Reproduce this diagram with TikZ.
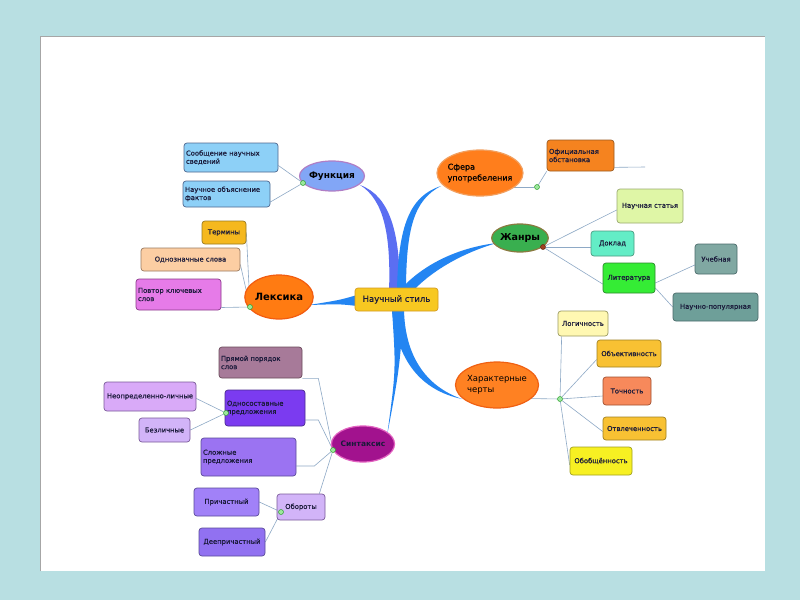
\documentclass[tikz,border=0pt]{standalone}
\usepackage{fontspec}
\setmainfont{DejaVu Sans}
\newfontfamily\boxfont{DejaVu Sans}[FakeBold=0.6]
\usetikzlibrary{shapes.geometric,backgrounds}
\definecolor{bgteal}{HTML}{B8DFE2}
\definecolor{txt}{HTML}{1A1A3A}
\definecolor{connc}{HTML}{8EA9C6}
\definecolor{brA}{HTML}{5B6EF2}
\definecolor{brB}{HTML}{2385F2}
\definecolor{fSB}{HTML}{8DD0F7}\definecolor{dSB}{HTML}{506890}
\definecolor{fOf}{HTML}{F5831F}\definecolor{dOf}{HTML}{9A5A20}
\definecolor{fSt}{HTML}{DFF6A6}\definecolor{dSt}{HTML}{9AAA70}
\definecolor{fDk}{HTML}{63EDC6}\definecolor{dDk}{HTML}{4A9A80}
\definecolor{fLt}{HTML}{35EC35}\definecolor{dLt}{HTML}{2A8A2A}
\definecolor{fUc}{HTML}{80A8A2}\definecolor{dUc}{HTML}{4A6A6A}
\definecolor{fNp}{HTML}{6E9F99}
\definecolor{fTe}{HTML}{F5B81E}\definecolor{dTe}{HTML}{9A7A20}
\definecolor{fOd}{HTML}{FCCEA3}\definecolor{dOd}{HTML}{9A7A60}
\definecolor{fPv}{HTML}{E67BE8}\definecolor{dPv}{HTML}{8A3A8A}
\definecolor{fLg}{HTML}{FFF8B2}\definecolor{dLg}{HTML}{9A9A60}
\definecolor{fOb}{HTML}{F8C133}\definecolor{dOb}{HTML}{A08020}
\definecolor{fTo}{HTML}{F7895B}\definecolor{dTo}{HTML}{A05030}
\definecolor{fOo}{HTML}{F7F022}\definecolor{dOo}{HTML}{A0A020}
\definecolor{fPr}{HTML}{A77A99}\definecolor{dPr}{HTML}{6A4A5A}
\definecolor{fOs}{HTML}{7B3BF0}\definecolor{dOs}{HTML}{4A2A90}
\definecolor{fNe}{HTML}{D9AAF8}\definecolor{dNe}{HTML}{7A5A9A}
\definecolor{fBz}{HTML}{D2B4F8}
\definecolor{fSl}{HTML}{9B73F2}\definecolor{dSl}{HTML}{5A4A9A}
\definecolor{fPc}{HTML}{A181F8}
\definecolor{fDe}{HTML}{9171F1}
\definecolor{fCe}{HTML}{F7C821}\definecolor{dCe}{HTML}{D49A20}
\definecolor{fFu}{HTML}{82A6F6}\definecolor{dFu}{HTML}{B07EC6}
\definecolor{fSf}{HTML}{FF7E1C}\definecolor{dSf}{HTML}{F2A060}
\definecolor{fZh}{HTML}{39AF4F}\definecolor{dZh}{HTML}{8A7A40}
\definecolor{fLe}{HTML}{FF7B12}\definecolor{dLe}{HTML}{F25C10}
\definecolor{fHa}{HTML}{FF8122}\definecolor{dHa}{HTML}{F06012}
\definecolor{fSi}{HTML}{A2128E}\definecolor{dSi}{HTML}{E262C0}
\definecolor{dotg}{HTML}{9CE89C}\definecolor{dotgd}{HTML}{30A030}
\definecolor{dotr}{HTML}{A04020}
\tikzset{
  box/.style 2 args={fill=#1, draw=#2, rounded corners=3pt, line width=0.7pt,
    inner sep=2pt, text=txt, font=\boxfont\fontsize{6.8}{8.2}\selectfont},
  ell/.style 2 args={ellipse, fill=#1, draw=#2, line width=1.2pt, inner sep=0pt,
    text=black, font=\fontsize{9}{10}\selectfont\bfseries},
  jdot/.style 2 args={circle, fill=#1, draw=#2, line width=0.5pt, minimum size=5pt, inner sep=0pt},
  conn/.style={draw=connc, line width=0.6pt},
  branch/.style={fill=#1, draw=none},
}
\begin{document}
\begin{tikzpicture}[x=1pt,y=-1pt]
\useasboundingbox (0,0) rectangle (800,600);
\begin{scope}[on background layer]
  \fill[bgteal] (0,0) rectangle (800,600);
  \fill[white] (40,36) rectangle (765,571);
  \draw[gray!70, line width=0.8pt] (40,571) -- (40,36) -- (765,36);
  % tapered branches from the central node
  \path[branch=brA] (389,292) .. controls (391,235) and (384,200) .. (360,185)
        .. controls (390,196) and (400,232) .. (400,292) -- cycle;
  \path[branch=brB] (397,292) .. controls (398,225) and (410,196) .. (441,186)
        .. controls (414,200) and (406,228) .. (406,292) -- cycle;
  \path[branch=brB] (400,290) .. controls (425,262) and (462,247) .. (497,243)
        .. controls (465,252) and (432,270) .. (412,292) -- cycle;
  \path[branch=brB] (357,295) .. controls (340,300) .. (309,305)
        .. controls (340,304) .. (357,306) -- cycle;
  \path[branch=brB] (392,310) .. controls (397,360) and (420,390) .. (462,399)
        .. controls (425,386) and (405,355) .. (404,310) -- cycle;
  \path[branch=brB] (392,310) .. controls (396,370) .. (387,436)
        .. controls (399,372) .. (404,310) -- cycle;
\end{scope}

% central node
\node[box={fCe}{dCe}, minimum width=83pt, minimum height=23pt, font=\boxfont\fontsize{8.5}{10}\selectfont] (central) at (396.5,299.5) {Научный стиль};

% main topics
\node[ell={fFu}{dFu}, minimum width=60pt, minimum height=30pt] (func) at (332,176) {Функция};
\node[ell={fSf}{dSf}, minimum width=86pt, minimum height=46pt, align=left, inner xsep=-7pt,
      font=\boxfont\fontsize{8}{11}\selectfont] (sfera) at (480,173) {Сфера\\употребеления};
\node[ell={fZh}{dZh}, minimum width=50pt, minimum height=28pt, font=\fontsize{9.5}{11}\selectfont\bfseries] (zhanry) at (520,238) {Жанры};
\node[ell={fLe}{dLe}, minimum width=62pt, minimum height=44pt, font=\fontsize{10}{11}\selectfont\bfseries] (leks) at (279,297) {Лексика};
\node[ell={fHa}{dHa}, minimum width=83pt, minimum height=46pt, align=left, inner xsep=-7pt,
      font=\fontsize{8.5}{11}\selectfont] (har) at (497,385) {Характерные\\черты};
\node[ell={fSi}{dSi}, minimum width=60pt, minimum height=36pt, text=txt, font=\fontsize{7.5}{9}\selectfont\bfseries] (sint) at (363,444) {Синтаксис};

% Функция
\node[box={fSB}{dSB}, text width=90pt, align=left, minimum height=29pt] (s1) at (231,157.5) {Сообщение научных\\сведений};
\node[box={fSB}{dSB}, text width=83pt, align=left, minimum height=26pt] (s2) at (226.5,194) {Научное объяснение\\фактов};
% Сфера
\node[box={fOf}{dOf}, text width=63pt, align=left, minimum height=31pt] (ofic) at (580.5,155.5) {Официальная\\обстановка};
% Жанры
\node[box={fSt}{dSt}, minimum width=66pt, minimum height=34pt] (stat) at (650,206) {Научная статья};
\node[box={fDk}{dDk}, minimum width=43pt, minimum height=25pt] (dokl) at (612.5,243.5) {Доклад};
\node[box={fLt}{dLt}, minimum width=52pt, minimum height=30pt] (lit) at (629,278) {Литература};
\node[box={fUc}{dUc}, minimum width=42pt, minimum height=30pt] (ucheb) at (716,259) {Учебная};
\node[box={fNp}{dUc}, minimum width=85pt, minimum height=28pt] (nauchpop) at (715.5,307) {Научно-популярная};
% Лексика
\node[box={fTe}{dTe}, minimum width=44pt, minimum height=23pt] (term) at (224,232.5) {Термины};
\node[box={fOd}{dOd}, minimum width=99pt, minimum height=23pt] (odnozn) at (190.5,259.5) {Однозначные слова};
\node[box={fPv}{dPv}, text width=81pt, align=left, minimum height=31pt] (povtor) at (178.5,294.5) {Повтор ключевых\\слов};
% Характерные черты
\node[box={fLg}{dLg}, minimum width=50pt, minimum height=25pt] (log) at (583,323.5) {Логичность};
\node[box={fOb}{dOb}, minimum width=64pt, minimum height=27pt] (obj) at (629,353.5) {Объективность};
\node[box={fTo}{dTo}, minimum width=48pt, minimum height=28pt] (toch) at (627,391) {Точность};
\node[box={fOb}{dOb}, minimum width=63pt, minimum height=23pt] (otvl) at (634.5,428.5) {Отвлеченность};
\node[box={fOo}{dOo}, minimum width=62pt, minimum height=28pt] (obob) at (601,461) {Обобщённость};
% Синтаксис
\node[box={fPr}{dPr}, text width=79pt, align=left, minimum height=31pt] (pryam) at (260.5,362.5) {Прямой порядок\\слов};
\node[box={fOs}{dOs}, text width=76pt, align=left, minimum height=36pt] (odnosost) at (265,408) {Односоставные\\предложения};
\node[box={fNe}{dNe}, minimum width=92pt, minimum height=29pt, inner xsep=0.5pt] (neopr) at (150,396.5) {Неопределенно-личные};
\node[box={fBz}{dNe}, minimum width=51pt, minimum height=24pt] (bezl) at (164.5,430) {Безличные};
\node[box={fSl}{dSl}, text width=91pt, align=left, minimum height=38pt] (slozh) at (248.5,457) {Сложные\\предложения};
\node[box={fBz}{dNe}, minimum width=48pt, minimum height=26pt] (oborot) at (301,507) {Обороты};
\node[box={fPc}{dSl}, minimum width=65pt, minimum height=28pt] (prich) at (226.5,502) {Причастный};
\node[box={fDe}{dSl}, minimum width=66pt, minimum height=28pt] (deepr) at (232,542) {Деепричастный};

% junction dots
\node[jdot={dotg}{dotgd}] (dF) at (303,183) {};
\node[jdot={dotg}{dotgd}] (dS) at (537,187) {};
\node[jdot={dotr}{dotr!60!black}] (dZ) at (543,247) {};
\node[jdot={dotg}{dotgd}] (dL) at (250,307) {};
\node[jdot={dotg}{dotgd}] (dH) at (560,399) {};
\node[jdot={dotg}{dotgd}] (dSy) at (333,450) {};
\node[jdot={dotg}{dotgd}] (dO) at (226,413) {};
\node[jdot={dotg}{dotgd}] (dOb) at (281,512) {};
\coordinate (ofend) at (645,167);

\begin{scope}[on background layer]
  % Функция
  \draw[conn] (dF) -- ([yshift=-8pt]s1.east);
  \draw[conn] (dF) -- ([yshift=-8pt]s2.east);
  % Сфера
  \draw[conn] ([yshift=-14pt]sfera.center) -- (dS);
  \draw[conn] (dS) -- (ofic.south west);
  \draw[conn] ([yshift=4pt]ofic.south east) -- (ofend);
  % Жанры
  \draw[conn] (dZ) -- ([yshift=-4pt]stat.west);
  \draw[conn] (dZ) -- ([yshift=-3.5pt]dokl.west);
  \draw[conn] (dZ) -- ([yshift=-6pt]lit.west);
  \draw[conn] ([yshift=-5pt]lit.east) -- ([yshift=-6pt]ucheb.west);
  \draw[conn] ([yshift=-10pt]lit.east) -- (nauchpop.west);
  % Лексика
  \draw[conn] (dL) -- (term.east);
  \draw[conn] (dL) -- ([yshift=-5pt]odnozn.east);
  \draw[conn] (dL) -- ([yshift=-13pt]povtor.east);
  % Характерные черты
  \draw[conn] ([yshift=-13pt]har.center) -- (dH);
  \draw[conn] (dH) -- ([xshift=4pt]log.south west);
  \draw[conn] (dH) -- ([yshift=-6pt]obj.west);
  \draw[conn] (dH) -- ([yshift=-5pt]toch.west);
  \draw[conn] (dH) -- ([yshift=-3pt]otvl.west);
  \draw[conn] (dH) -- ([yshift=-4pt]obob.west);
  % Синтаксис
  \draw[conn] (pryam.south east) -- ++(16,0) -- (dSy);
  \draw[conn] ([yshift=-12pt]odnosost.east) -- ++(13,0) -- (dSy);
  \draw[conn] ([yshift=-9pt]slozh.east) -- ++(18,0) -- (dSy);
  \draw[conn] (dSy) -- ([xshift=-6pt]oborot.north east);
  \draw[conn] (dO) -- ([yshift=-2pt]neopr.east);
  \draw[conn] (dO) -- (bezl.east);
  \draw[conn] (dOb) -- (prich.east);
  \draw[conn] (dOb) -- (deepr.east);
\end{scope}
\end{tikzpicture}
\end{document}
